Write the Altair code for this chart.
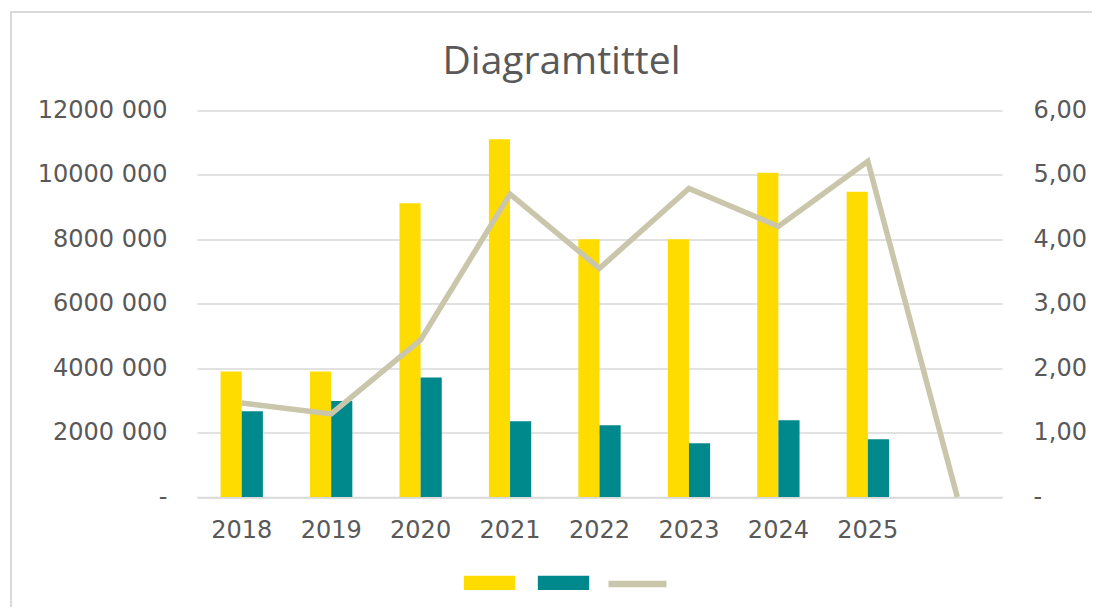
import altair as alt
import pandas as pd

# ---- data ----
categories = ["2018", "2019", "2020", "2021", "2022", "2023", "2024", "2025", " "]
bar_years = ["2018", "2019", "2020", "2021", "2022", "2023", "2024", "2025"]
series_names = ["Serie1", "Serie2", "Serie3"]
yellow_values = [3900000, 3900000, 9120000, 11110000, 8000000, 8000000, 10070000, 9480000]
teal_values = [2660000, 2980000, 3710000, 2350000, 2230000, 1670000, 2380000, 1790000]
line_values = [1.46, 1.29, 2.44, 4.70, 3.55, 4.79, 4.20, 5.21, 0.0]
left_ticks = [0, 2000000, 4000000, 6000000, 8000000, 10000000, 12000000]
right_ticks = [0, 1, 2, 3, 4, 5, 6]
colors = ["#FFDC00", "#00898C", "#C9C6AB"]

# ---- tables ----
bars_df = pd.DataFrame(
    [{"year": y, "series": series_names[0], "value": v} for y, v in zip(bar_years, yellow_values)]
    + [{"year": y, "series": series_names[1], "value": v} for y, v in zip(bar_years, teal_values)]
)
line_df = pd.DataFrame({"year": categories, "series": series_names[2], "ratio": line_values})
legend_df = pd.DataFrame({"series": series_names})

GRID = "#D9D9D9"
TEXT = "#595959"
AXFONT = "DejaVu Sans"
AXSIZE = 24

bar_path = "M-0.885,-0.247L0.885,-0.247L0.885,0.247L-0.885,0.247Z"
line_path = "M-1,-0.11L1,-0.11L1,0.11L-1,0.11Z"

color_scale = alt.Scale(domain=series_names, range=colors)

x_enc = alt.X(
    "year:N",
    sort=categories,
    scale=alt.Scale(domain=categories, paddingInner=0.527, paddingOuter=0.2635),
    axis=alt.Axis(
        title=None, labelAngle=0, labelFont=AXFONT, labelFontSize=AXSIZE,
        labelColor=TEXT, ticks=False, domain=True, domainColor=GRID,
        domainWidth=1.5, labelPadding=21, grid=False,
    ),
)

bars = alt.Chart(bars_df).mark_bar().encode(
    x=x_enc,
    xOffset=alt.XOffset("series:N", scale=alt.Scale(domain=series_names[:2], paddingInner=0, paddingOuter=0)),
    y=alt.Y(
        "value:Q",
        scale=alt.Scale(domain=[0, 12000000], nice=False),
        axis=alt.Axis(
            orient="left", title=None, values=left_ticks,
            labelExpr="datum.value == 0 ? '-\u2002\u00a0' : format(datum.value / 1000, 'd') + ' 000'",
            labelFont=AXFONT, labelFontSize=AXSIZE, labelColor=TEXT,
            grid=True, gridColor=GRID, gridWidth=1.5, domain=False, ticks=False,
            labelPadding=30,
        ),
    ),
    color=alt.Color("series:N", scale=color_scale, legend=None),
)

line = alt.Chart(line_df).mark_line(strokeWidth=5.5, color=colors[2], strokeJoin="miter").encode(
    x=alt.X("year:N", sort=categories),
    y=alt.Y(
        "ratio:Q",
        scale=alt.Scale(domain=[0, 6], nice=False),
        axis=alt.Axis(
            orient="right", title=None, values=right_ticks,
            labelExpr="datum.value == 0 ? '-' : replace(format(datum.value, '.2f'), '.', ',')",
            labelFont=AXFONT, labelFontSize=AXSIZE, labelColor=TEXT,
            grid=False, domain=False, ticks=False, labelPadding=31,
        ),
    ),
)

legend = alt.Legend(
    orient="none", legendX=263.5, legendY=443, direction="horizontal",
    title=None, labelExpr="''", labelOffset=0, columnPadding=16,
    symbolSize=3364, symbolStrokeWidth=0, symbolOpacity=1, padding=0,
)

legend_layer = alt.Chart(legend_df).mark_point(filled=True, opacity=0).encode(
    color=alt.Color("series:N", scale=color_scale, legend=legend),
    shape=alt.Shape("series:N", scale=alt.Scale(domain=series_names, range=[bar_path, bar_path, line_path]), legend=legend),
)

frame_src = alt.Data(values=[{}])
frame_left = alt.Chart(frame_src).mark_rule(color=GRID, strokeWidth=2).encode(
    x=alt.value(-186), y=alt.value(-98.5), y2=alt.value(600)
)
frame_top = alt.Chart(frame_src).mark_rule(color=GRID, strokeWidth=2).encode(
    x=alt.value(-187), x2=alt.value(900), y=alt.value(-98.5)
)

chart = (
    alt.layer(legend_layer, frame_left, frame_top, bars, line)
    .resolve_scale(y="independent")
    .properties(
        width=805,
        height=386.5,
        autosize=alt.AutoSizeParams(type="none"),
        padding={"left": 189, "top": 102.5, "right": 90, "bottom": 110},
        title=alt.TitleParams(
            text="Diagramtittel", font="Open Sans", fontSize=39, fontWeight="normal",
            color=TEXT, anchor="middle", baseline="bottom", offset=0, dx=-38, dy=109.5,
        ),
        background="white",
    )
    .configure_view(stroke=None)
)

chart.save("out.html", embed_options={"renderer": "svg", "actions": False})
